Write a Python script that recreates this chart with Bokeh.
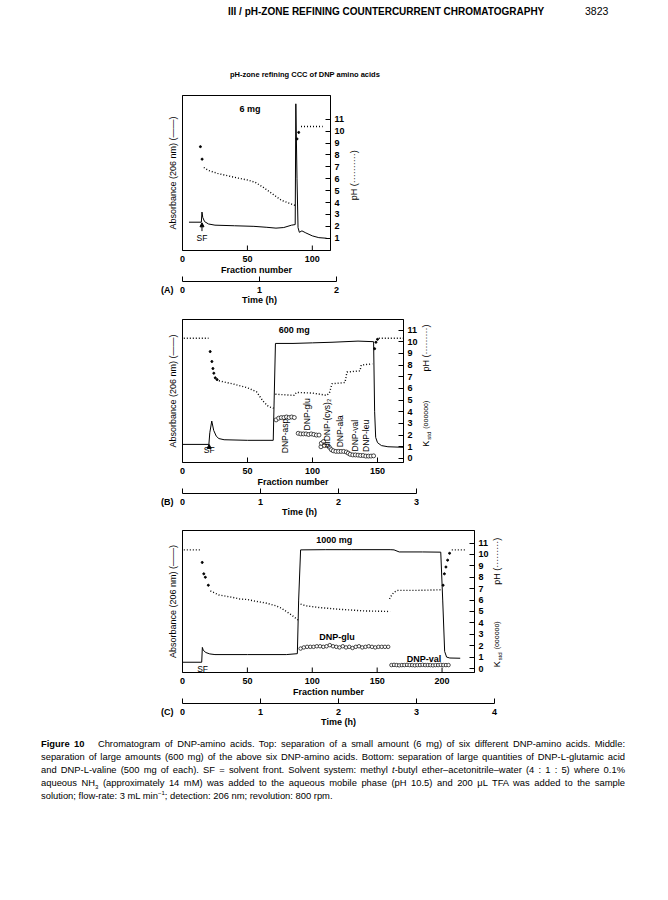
from math import pi
import numpy as np
from bokeh.plotting import figure
from bokeh.models import LinearAxis, FixedTicker, Label, Div, Arrow, NormalHead, Range1d
from bokeh.layouts import column, row
from bokeh.core.properties import value
from bokeh.embed import file_html
from bokeh.resources import INLINE

FONT = "Liberation Sans"
nan = np.nan

# ---------------- Panel A (6 mg) ----------------
A_abs_x = [5, 14.5, 15, 15.6, 17, 20, 25, 40, 55, 65, 72, 78, 84, 86.8, 87.3, 88.2, 89, 90, 92, 95, 100, 105, 111]
A_abs_y = [2.35, 2.35, 3.2, 2.75, 2.4, 2.2, 2.1, 2.05, 2.0, 1.92, 1.85, 1.9, 2.1, 2.15, 12.3, 6.0, 1.9, 1.5, 1.62, 1.45, 1.2, 1.05, 1.0]
A_ph_x = [16.4, 20, 27, 33, 43, 50, 56, 62, 69, 76, 82, 87, nan, 91.3, 108]
A_ph_y = [6.95, 6.7, 6.45, 6.3, 6.05, 5.9, 5.7, 5.3, 4.75, 4.2, 3.95, 3.75, nan, 10.4, 10.4]
A_dot_x = [13.8, 15.1, 88.2, 89.5]
A_dot_y = [8.7, 7.65, 9.35, 9.9]

# ---------------- Panel B (600 mg) ----------------
B_abs_x = [0, 20.3, 21, 22.5, 24, 26, 28, 32, 50, 69.8, 70.5, 71.5, 85, 100, 115, 125, 135, 147, 147.8, 148.6, 150, 153, 158, 170]
B_abs_y = [1.2, 1.2, 2.2, 3.2, 2.4, 1.9, 1.7, 1.6, 1.55, 1.55, 5.0, 9.85, 9.85, 9.9, 9.95, 10.0, 10.05, 10.0, 4.0, 1.8, 1.35, 1.1, 1.0, 0.95]
B_ph_x = [1, 20, nan, 28, 40, 50, 57, 62, 66, 70, nan, 71.5, 86, 87.5, 100, 111, 113, 115, 125, 126.5, 136.5, 137.5, 146, nan, 151, 170]
B_ph_y = [10.3, 10.3, nan, 6.65, 6.35, 6.05, 5.7, 4.9, 4.45, 4.3, nan, 5.5, 5.4, 5.65, 5.6, 5.4, 5.6, 6.4, 6.5, 7.4, 7.5, 8.0, 8.1, nan, 10.3, 10.3]
B_dot_x = [21.3, 22.6, 23.4, 24.1, 25.2, 26.6, 147.8, 148.8, 150]
B_dot_y = [9.15, 8.3, 7.7, 7.3, 6.9, 6.75, 9.4, 9.95, 10.2]
B_asp_x = [72, 74, 76, 78, 80, 82, 84, 86]
B_asp_k = [3.3, 3.45, 3.5, 3.5, 3.55, 3.5, 3.55, 3.5]
B_glu_x = [89, 91, 93, 95, 97, 99, 101, 103, 105]
B_glu_k = [2.15, 2.1, 2.1, 2.1, 2.05, 2.1, 2.05, 2.0, 2.0]
B_cys_x = [106.5, 106.8, 108.5, 109.2]
B_cys_k = [1.0, 1.3, 1.45, 1.1]
B_ala_x = [113, 114.5, 116, 118, 120, 122, 124, 126]
B_ala_k = [0.95, 0.75, 0.65, 0.6, 0.6, 0.6, 0.6, 0.55]
B_val_x = [127.5, 129, 131, 133, 135, 137]
B_val_k = [0.45, 0.35, 0.3, 0.3, 0.28, 0.25]
B_leu_x = [139, 141, 143, 145, 147]
B_leu_k = [0.25, 0.2, 0.2, 0.2, 0.22]
B_lab_text = ["DNP-asp", "DNP-glu", "diDNP-(cys)\u2082", "DNP-ala", "DNP-val", "DNP-leu"]
B_lab_x = [79, 95.5, 111.5, 121, 133, 141.5]
B_lab_y = [0.45, 2.4, 0.9, 0.95, 0.6, 0.55]

# ---------------- Panel C (1000 mg) ----------------
C_abs_x = [0, 14.8, 15.3, 16, 18, 21, 25, 50, 80, 88.5, 89.5, 91, 110, 130, 160, 163, 167, 185, 199, 200.5, 202, 203.5, 206, 214]
C_abs_y = [0.55, 0.55, 1.85, 1.6, 1.4, 1.28, 1.22, 1.22, 1.22, 1.3, 6.0, 10.4, 10.42, 10.42, 10.42, 10.4, 10.22, 10.22, 10.2, 6.0, 1.5, 1.0, 0.92, 0.9]
C_ph_x = [1, 14.5, nan, 21.5, 28, 38, 44, 50, 56, 64, 72, 76, 80, 84, 89, nan, 91, 95, 105, 120, 140, 160, nan, 159.5, 161, 163, 166, 180, 199, nan, 207.5, 219]
C_ph_y = [10.4, 10.4, nan, 6.8, 6.45, 6.25, 6.1, 6.05, 5.9, 5.75, 5.5, 5.3, 5.0, 4.7, 4.25, nan, 5.65, 5.5, 5.35, 5.2, 5.05, 5.0, nan, 6.1, 6.4, 6.7, 6.85, 6.85, 6.9, nan, 10.4, 10.4]
C_dot_x = [15.2, 16.4, 17.6, 19.9, 200.8, 201.8, 203, 204.3, 205.8]
C_dot_y = [9.3, 8.3, 8.0, 7.3, 7.3, 8.3, 8.9, 9.5, 10.1]
C_glu_x = [91, 93.5, 96, 98.5, 101, 103.5, 106, 108.5, 111, 113.5, 116, 118.5, 121, 123.5,
           126, 128.5, 131, 133.5, 136, 138.5, 141, 143.5, 146, 148.5, 151, 153.5, 156, 158.5]
C_glu_k = [1.75, 1.85, 1.9, 1.9, 1.9, 1.95, 1.95, 1.9, 1.95, 2.05, 1.95, 1.9, 1.85, 1.95,
           1.85, 1.9, 1.8, 1.9, 1.95, 1.85, 1.9, 1.95, 1.9, 1.85, 1.9, 1.9, 1.9, 1.9]
C_val_x = [161, 163, 165, 167, 169, 171, 173, 175, 177, 179, 181, 183, 185, 187, 189, 191, 193, 195, 197, 199, 201, 203, 205]
C_val_k = [0.3, 0.32, 0.3, 0.28, 0.3, 0.3, 0.32, 0.3, 0.3, 0.28, 0.3, 0.3, 0.32, 0.3, 0.3, 0.3, 0.28, 0.3, 0.3, 0.32, 0.3, 0.3, 0.3]

A_fraction_ticks = [0, 50, 100]
B_fraction_ticks = [0, 50, 100, 150]
C_fraction_ticks = [0, 50, 100, 150, 200]
A_ph_ticks = [1, 2, 3, 4, 5, 6, 7, 8, 9, 10, 11]
BC_ph_ticks = [0, 1, 2, 3, 4, 5, 6, 7, 8, 9, 10, 11]
A_time_ticks = [0, 1, 2]
B_time_ticks = [0, 1, 2, 3]
C_time_ticks = [0, 1, 2, 3, 4]

FRAME_LEFT = 182
RIGHT_BORDER = 16
UNDER_LEFT = 150
UNDER_W = 360
UNDER_H = 54


def style_axis(ax, bold=True, size="9px"):
    ax.major_label_text_font = FONT
    ax.major_label_text_font_size = size
    ax.major_label_text_font_style = "bold" if bold else "normal"
    ax.major_label_text_color = "black"
    ax.axis_label_text_font = FONT
    ax.axis_label_text_font_size = size
    ax.axis_label_text_font_style = "bold" if bold else "normal"
    ax.axis_label_text_color = "black"
    ax.minor_tick_line_color = None
    ax.major_tick_in = 5
    ax.major_tick_out = 0
    ax.axis_line_color = "black"
    ax.major_tick_line_color = "black"


def clean(p):
    p.xgrid.visible = False
    p.ygrid.visible = False
    p.background_fill_color = "white"
    p.border_fill_color = "white"


def make_panel(xmax, yr, fw, fh, top, xticks, yticks):
    p = figure(title=None, frame_width=fw, frame_height=fh, x_range=(0, xmax), y_range=yr,
               output_backend="svg", toolbar_location=None, x_axis_location=None,
               min_border_left=FRAME_LEFT, min_border_right=RIGHT_BORDER,
               min_border_top=top, min_border_bottom=2)
    clean(p)
    p.outline_line_color = "black"
    p.outline_line_width = 1
    # fraction-number ticks pointing into the frame (labels are drawn in the strip below)
    ppu = fh / (yr[1] - yr[0])
    p.segment(x0=xticks, y0=[yr[0]] * len(xticks), x1=xticks, y1=[yr[0] + 5 / ppu] * len(xticks),
              line_color="black", line_width=1)
    ya = p.yaxis[0]
    ya.ticker = FixedTicker(ticks=[])
    style_axis(ya, bold=False, size="9px")
    ya.major_tick_in = 0
    ya.major_label_standoff = 0
    ya.axis_label_standoff = 5
    ya.axis_label = "Absorbance (206 nm) (\u2014\u2014)"
    ra = LinearAxis(ticker=FixedTicker(ticks=yticks))
    style_axis(ra)
    ra.major_label_standoff = 4
    p.add_layout(ra, "right")
    return p


def make_side(yr, fh, top):
    s = figure(title=None, frame_width=24, frame_height=fh, x_range=(0, 24), y_range=yr,
               output_backend="svg", toolbar_location=None,
               x_axis_location=None, y_axis_location=None,
               min_border_left=0, min_border_right=0, min_border_top=top, min_border_bottom=2)
    clean(s)
    s.outline_line_color = None
    return s


def rot_text(s, x, y, txt, size="9px", align="center"):
    s.text(x=[x], y=[y], text=[txt], angle=pi / 2, text_align=align, text_baseline="middle",
           text_font=value(FONT), text_font_size=size, text_color="black")


def k_label(s, x, y, ppu):
    rot_text(s, x, y, "K", size="9px", align="left")
    rot_text(s, x + 3, y + 7 / ppu, "std", size="6px", align="left")
    rot_text(s, x, y + 18 / ppu, "(oooooo)", size="7px", align="left")


def make_under(xmax, fw, tmax, tw, xticks, tticks, letter):
    k = fw / xmax
    kt = tw / tmax
    lead = FRAME_LEFT - UNDER_LEFT
    u = figure(title=None, frame_width=UNDER_W, frame_height=UNDER_H,
               x_range=(-lead / k, (UNDER_W - lead) / k), y_range=(0, UNDER_H),
               output_backend="svg", toolbar_location=None,
               x_axis_location=None, y_axis_location=None,
               min_border_left=UNDER_LEFT, min_border_right=0, min_border_top=0, min_border_bottom=0)
    clean(u)
    u.outline_line_color = None
    u.extra_x_ranges = {"time": Range1d(-lead / kt, (UNDER_W - lead) / kt)}
    y_fl, y_fn, y_tl, y_tlab, y_tt = UNDER_H - 6, UNDER_H - 17, UNDER_H - 29, UNDER_H - 37.5, UNDER_H - 47.5
    kw = dict(text_font=value(FONT), text_font_size="9px", text_font_style="bold",
              text_baseline="middle", text_color="black")
    u.text(x=xticks, y=[y_fl] * len(xticks), text=[str(t) for t in xticks], text_align="center", **kw)
    u.text(x=[xmax / 2], y=[y_fn], text=["Fraction number"], text_align="center", **kw)
    u.line(x=[tticks[0], tticks[-1]], y=[y_tl, y_tl], line_color="black", line_width=1, x_range_name="time")
    u.segment(x0=tticks, y0=[y_tl] * len(tticks), x1=tticks, y1=[y_tl + 5] * len(tticks),
              line_color="black", line_width=1, x_range_name="time")
    u.text(x=tticks, y=[y_tlab] * len(tticks), text=[str(t) for t in tticks], text_align="center",
           x_range_name="time", **kw)
    u.text(x=[tmax / 2], y=[y_tt], text=["Time (h)"], text_align="center", x_range_name="time", **kw)
    u.text(x=[0], y=[y_tlab], text=[f"({letter})"], text_align="right", x_offset=-9,
           x_range_name="time", **kw)
    return u


def draw_common(p, ax_, ay_, phx, phy, dx, dy):
    p.line(ax_, ay_, line_color="black", line_width=1)
    p.line(phx, phy, line_color="black", line_width=1.4, line_dash="1 2")
    p.scatter(dx, dy, marker="circle", size=2, fill_color="black", line_color="black")


def text_label(p, x, y, text, bold=True, size="9px"):
    p.add_layout(Label(x=x, y=y, text=text, text_align="center", text_baseline="middle",
                       text_font=FONT, text_font_size=size,
                       text_font_style="bold" if bold else "normal", text_color="black"))


def sf_arrow(p, x, y0, y1):
    p.add_layout(Arrow(end=NormalHead(size=4, fill_color="black", line_color="black", line_width=1),
                       x_start=x, y_start=y0, x_end=x, y_end=y1, line_width=1, line_color="black"))


# ---- Panel A
yrA = (-0.03, 13.0)
pA = make_panel(114, yrA, 148, 155, 7, A_fraction_ticks, A_ph_ticks)
draw_common(pA, A_abs_x, A_abs_y, A_ph_x, A_ph_y, A_dot_x, A_dot_y)
text_label(pA, 52, 11.9, "6 mg")
text_label(pA, 15, 1.05, "SF", bold=False, size="8.5px")
sf_arrow(pA, 15, 1.6, 2.3)
sA = make_side(yrA, 155, 7)
rot_text(sA, 6, 6.3, "pH (\u00b7\u00b7\u00b7\u00b7\u00b7\u00b7\u00b7\u00b7\u00b7\u00b7)")
uA = make_under(114, 148, 2, 154, A_fraction_ticks, A_time_ticks, "A")

# ---- Panel B
yrB = (-0.35, 11.9)
pB = make_panel(170, yrB, 221, 143, 13, B_fraction_ticks, BC_ph_ticks)
draw_common(pB, B_abs_x, B_abs_y, B_ph_x, B_ph_y, B_dot_x, B_dot_y)
for xs, ks in [(B_asp_x, B_asp_k), (B_glu_x, B_glu_k), (B_cys_x, B_cys_k),
               (B_ala_x, B_ala_k), (B_val_x, B_val_k), (B_leu_x, B_leu_k)]:
    pB.scatter(xs, ks, marker="circle", size=4, fill_color="white", line_color="black", line_width=0.7)
pB.text(x=B_lab_x, y=B_lab_y, text=B_lab_text, angle=pi / 2, text_align="left",
        text_baseline="middle", text_font=value(FONT), text_font_size="8.5px", text_color="black")
text_label(pB, 86, 11.0, "600 mg")
text_label(pB, 20.5, 0.7, "SF", bold=False, size="8.5px")
sf_arrow(pB, 20.5, 1.0, 1.2)
sB = make_side(yrB, 143, 13)
rot_text(sB, 5, 9.45, "pH (\u00b7\u00b7\u00b7\u00b7\u00b7\u00b7\u00b7\u00b7\u00b7)")
k_label(sB, 5, 1.0, 143 / (yrB[1] - yrB[0]))
uB = make_under(170, 221, 3, 234, B_fraction_ticks, B_time_ticks, "B")

# ---- Panel C
yrC = (-0.35, 12.1)
pC = make_panel(225, yrC, 292, 142, 12, C_fraction_ticks, BC_ph_ticks)
draw_common(pC, C_abs_x, C_abs_y, C_ph_x, C_ph_y, C_dot_x, C_dot_y)
pC.scatter(C_glu_x, C_glu_k, marker="circle", size=3.5, fill_color="white", line_color="black", line_width=0.7)
pC.scatter(C_val_x, C_val_k, marker="circle", size=3.5, fill_color="white", line_color="black", line_width=0.7)
text_label(pC, 117, 11.3, "1000 mg")
text_label(pC, 119, 2.75, "DNP-glu")
text_label(pC, 186, 0.8, "DNP-val")
text_label(pC, 15.5, 0.0, "SF", bold=False, size="8.5px")
sC = make_side(yrC, 142, 12)
rot_text(sC, 5, 9.4, "pH (\u00b7\u00b7\u00b7\u00b7\u00b7\u00b7\u00b7\u00b7\u00b7)")
k_label(sC, 5, 0.1, 142 / (yrC[1] - yrC[0]))
uC = make_under(225, 292, 4, 312, C_fraction_ticks, C_time_ticks, "C")

# ---- texts
FF = "font-family:'Liberation Sans',Arial,sans-serif;color:#000"
head = Div(width=652, height=88, margin=(0, 0, 0, 0), text=(
    f"<div style=\"position:relative;width:652px;height:88px;{FF}\">"
    "<span style=\"position:absolute;left:228px;top:5px;font-size:10px;font-weight:bold;line-height:13px;white-space:nowrap\">"
    "III / pH-ZONE REFINING COUNTERCURRENT CHROMATOGRAPHY</span>"
    "<span style=\"position:absolute;left:585px;top:5px;font-size:10.5px;line-height:13px\">3823</span>"
    "<span style=\"position:absolute;left:230px;top:70px;font-size:7.5px;font-weight:bold;line-height:10px;white-space:nowrap\">"
    "pH-zone refining CCC of DNP amino acids</span></div>"))

J = "text-align:justify;text-align-last:justify;white-space:nowrap"
caption = Div(width=652, height=90, margin=(0, 0, 0, 0), text=(
    f"<div style=\"margin-left:41px;width:584px;padding-top:9px;{FF};font-size:9.4px;line-height:13px\">"
    f"<div style=\"{J}\"><b>Figure 10</b>&nbsp;&nbsp;&nbsp;Chromatogram of DNP-amino acids. Top: separation of a small amount (6 mg) of six different DNP-amino acids. Middle:</div>"
    f"<div style=\"{J}\">separation of large amounts (600 mg) of the above six DNP-amino acids. Bottom: separation of large quantities of DNP-L-glutamic acid</div>"
    f"<div style=\"{J}\">and DNP-L-valine (500 mg of each). SF = solvent front. Solvent system: methyl <i>t</i>-butyl ether\u2013acetonitrile\u2013water (4 : 1 : 5) where 0.1%</div>"
    f"<div style=\"{J}\">aqueous NH<sub style=\"font-size:6px;line-height:0\">3</sub> (approximately 14 mM) was added to the aqueous mobile phase (pH 10.5) and 200 \u03bcL TFA was added to the sample</div>"
    "<div style=\"white-space:nowrap\">solution; flow-rate: 3 mL min<sup style=\"font-size:6px;line-height:0\">\u22121</sup>; detection: 206 nm; revolution: 800 rpm.</div>"
    "</div>"))

layout = column(head, row(pA, sA, spacing=0), uA, row(pB, sB, spacing=0), uB,
                row(pC, sC, spacing=0), uC, caption, spacing=0)

open("out.html", "w").write(file_html(layout, INLINE))
